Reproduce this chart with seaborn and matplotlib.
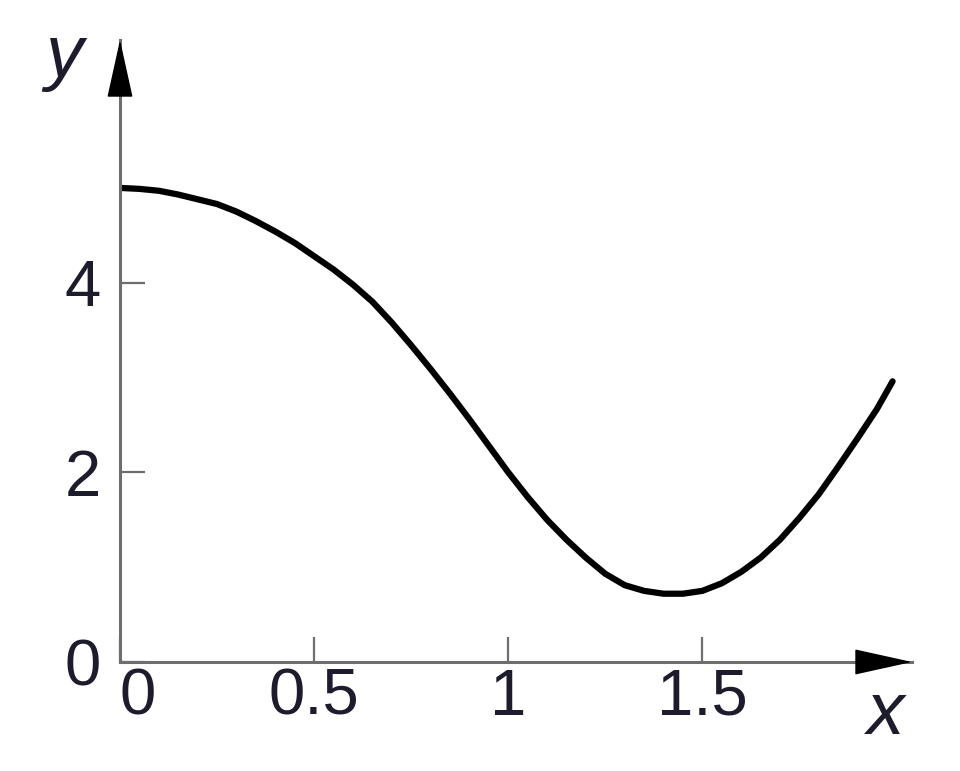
import matplotlib
matplotlib.use('Agg')
import matplotlib.pyplot as plt
import pandas as pd
import seaborn as sns

# curve
x_vals = [0.00, 0.05, 0.10, 0.15, 0.20, 0.25, 0.30, 0.35, 0.40, 0.45,
          0.50, 0.55, 0.60, 0.65, 0.70, 0.75, 0.80, 0.85, 0.90, 0.95,
          1.00, 1.05, 1.10, 1.15, 1.20, 1.25, 1.30, 1.35, 1.40, 1.45,
          1.50, 1.55, 1.60, 1.65, 1.70, 1.75, 1.80, 1.85, 1.90, 1.95, 1.99]
y_vals = [5.00, 4.99, 4.97, 4.93, 4.88, 4.83, 4.75, 4.65, 4.54, 4.42,
          4.28, 4.14, 3.98, 3.80, 3.58, 3.34, 3.09, 2.83, 2.56, 2.28,
          2.00, 1.74, 1.50, 1.29, 1.10, 0.93, 0.81, 0.75, 0.72, 0.72,
          0.75, 0.83, 0.95, 1.10, 1.29, 1.52, 1.77, 2.06, 2.36, 2.67, 2.96]

x_ticks = [0, 0.5, 1, 1.5]
x_tick_labels = ['0', '0.5', '1', '1.5']
y_ticks = [0, 2, 4]
y_tick_labels = ['0', '2', '4']

sns.set_style('white')
plt.rcParams['font.family'] = ['Liberation Sans', 'DejaVu Sans']

axis_grey = '#6e6e6e'
text_col = '#1c1c2c'

fig = plt.figure(figsize=(9.6, 7.71), dpi=100)
ax = fig.add_axes([0.125, 0.1414, 0.825, 0.8067])

df = pd.DataFrame({'x': x_vals, 'y': y_vals})
sns.lineplot(data=df, x='x', y='y', ax=ax, color='black', lw=4.5, sort=False)

ax.set_xlim(0, 2.04)
ax.set_ylim(0, 6.56)
ax.set_xlabel('')
ax.set_ylabel('')

sns.despine(ax=ax)
for side in ['left', 'bottom']:
    ax.spines[side].set_color(axis_grey)
    ax.spines[side].set_linewidth(2.2)

ax.set_xticks(x_ticks)
ax.set_xticklabels(x_tick_labels)
ax.set_yticks(y_ticks)
ax.set_yticklabels(y_tick_labels)
ax.tick_params(axis='both', direction='in', length=18, width=1.6,
               color=axis_grey, labelsize=47, labelcolor=text_col,
               bottom=True, left=True)
ax.tick_params(axis='x', pad=4)
ax.tick_params(axis='y', pad=14)
ax.get_xticklabels()[0].set_ha('left')

# arrow heads on the axes
head = dict(arrowstyle='-|>,head_length=1.9,head_width=0.42',
            fc='black', ec='black', lw=1, mutation_scale=20, shrinkA=0, shrinkB=0)
ax.annotate('', xy=(1.0, 0), xytext=(0.96, 0), xycoords='axes fraction',
            arrowprops=head, annotation_clip=False)
ax.annotate('', xy=(0, 1.0), xytext=(0, 0.95), xycoords='axes fraction',
            arrowprops=head, annotation_clip=False)

fig.text(886 / 960, 1 - 714 / 771, 'x', fontsize=54, style='italic', color=text_col,
         ha='center', va='center')
fig.text(64 / 960, 1 - 58 / 771, 'y', fontsize=54, style='italic', color=text_col,
         ha='center', va='center')

fig.savefig('out.png', dpi=100, facecolor='white')
